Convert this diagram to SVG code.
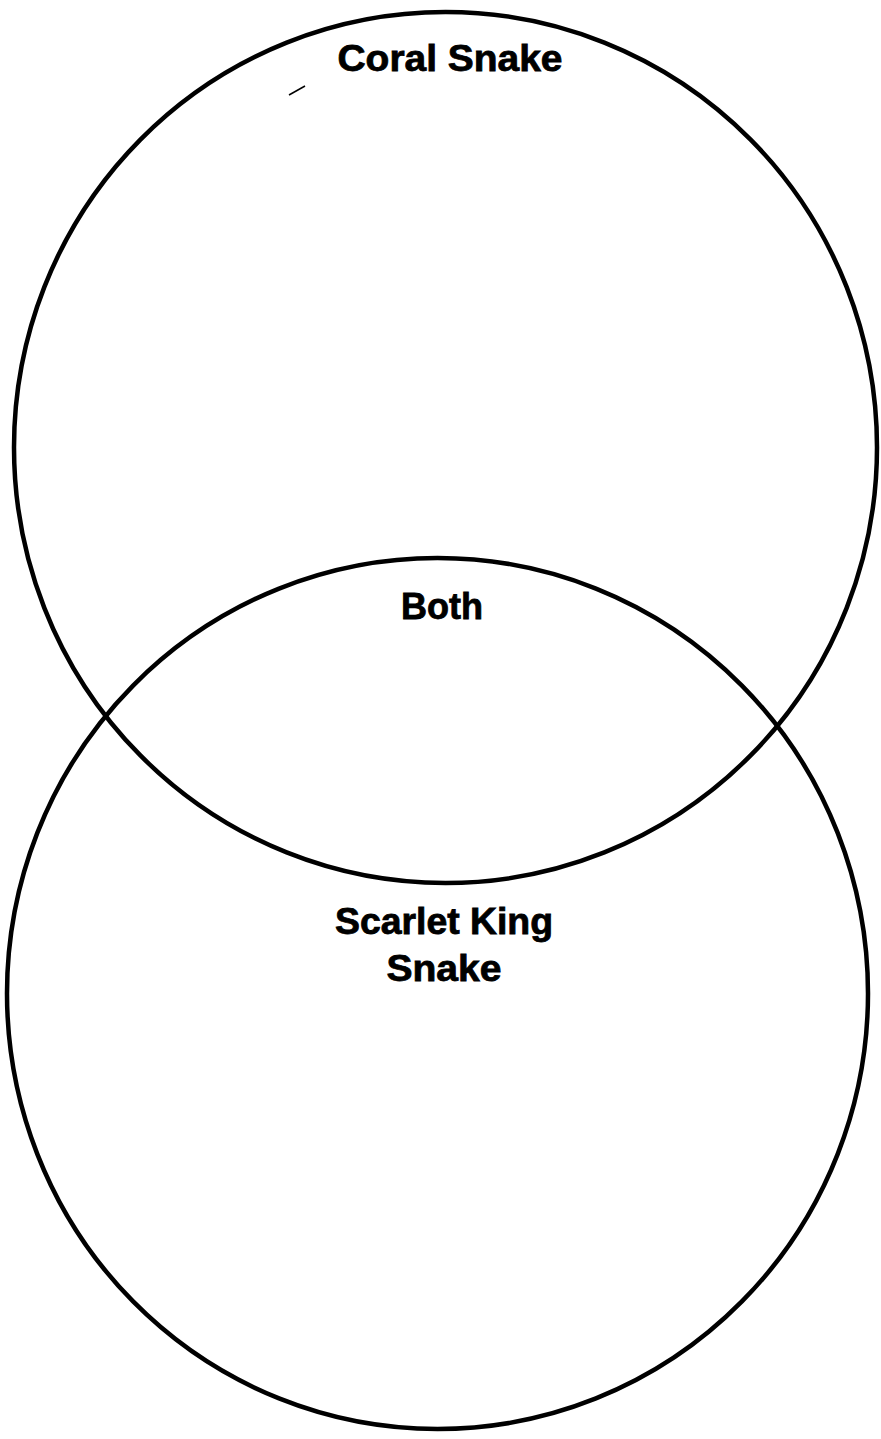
<svg xmlns="http://www.w3.org/2000/svg" width="881" height="1439" viewBox="0 0 881 1439">
<style>
.c{fill:none;stroke:#000;stroke-width:4.5}
.t{font-family:"Liberation Sans",Arial,sans-serif;font-weight:bold;font-size:36px;fill:#000;text-anchor:middle;stroke:#000;stroke-width:0.8}
</style>
<rect width="881" height="1439" fill="#fff"/>
<g id="coral">
<ellipse class="c" cx="445.5" cy="447.5" rx="431.5" ry="435.5"/>
<text class="t" x="450" y="71" textLength="225" lengthAdjust="spacingAndGlyphs">Coral Snake</text>
</g>
<g id="scarlet">
<ellipse class="c" cx="437.5" cy="993.5" rx="430.5" ry="435.5"/>
<text class="t" x="444" y="934" textLength="218" lengthAdjust="spacingAndGlyphs">Scarlet King</text>
<text class="t" x="444" y="981" textLength="115" lengthAdjust="spacingAndGlyphs">Snake</text>
</g>
<g id="both">
<text class="t" x="442" y="619" textLength="82" lengthAdjust="spacingAndGlyphs">Both</text>
</g>
<g id="connectors"></g>
<path d="M289 95 L305 86" stroke="#000" stroke-width="1.5" fill="none"/>
</svg>
